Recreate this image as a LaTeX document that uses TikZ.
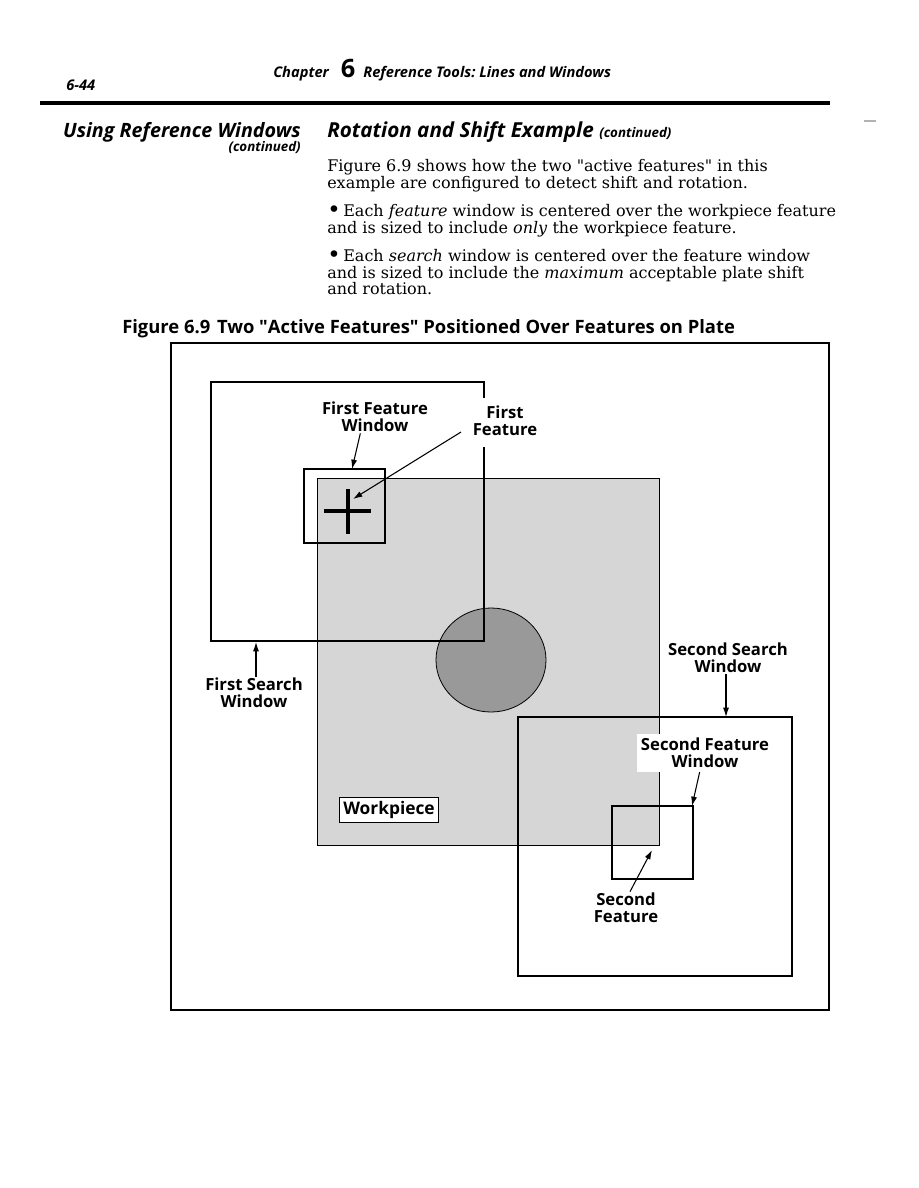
\documentclass[tikz,border=0pt]{standalone}
\usepackage{fontspec}
\setmainfont{DejaVu Serif}
\setsansfont{Open Sans}
\usetikzlibrary{arrows.meta,positioning}

\newcommand{\pxfont}[1]{\fontsize{#1}{#1}\selectfont}
\newcommand{\bodyline}[3]{%
    \node[anchor=base west, inner sep=0pt, font=\pxfont{12}] (#1) at (327,#2) {#3};
}
\newcommand{\bigdot}{{\pxfont{17}\raisebox{-1pt}{\textbullet}}}

\tikzset{
    lbl/.style={font=\pxfont{12.5}\sffamily\bfseries, align=center, inner sep=1pt},
    winline/.style={line width=1.7pt},
    arr/.style={line width=0.8pt, -{Latex[length=7pt,width=4.5pt]}},
}

\begin{document}
\begin{tikzpicture}[x=0.75pt, y=-0.75pt, font=\sffamily]
    \useasboundingbox (0,0) rectangle (918,1188);
    % page head
    \node[anchor=base west, inner sep=0pt, font=\pxfont{11}\sffamily\bfseries\itshape] (pnum) at (66,90) {6-44};
    \node[anchor=base west, inner sep=0pt, font=\pxfont{11}\sffamily\bfseries\itshape] (chap) at (273,78)
        {Chapter\hspace{9pt}{\upshape\pxfont{19}6}\hspace{6pt}Reference Tools:\ Lines and Windows};
    \draw[line width=3pt] (40,103) -- (830,103);
    \draw[gray!60, line width=0.8pt] (864,121) -- (876,121);
    % side and section heads
    \node[anchor=base east, inner sep=0pt, font=\pxfont{14.8}\sffamily\bfseries\itshape] (side) at (301,137) {Using Reference Windows};
    \node[anchor=base east, inner sep=0pt, font=\pxfont{10}\sffamily\bfseries\itshape] (sidec) at (301,151) {(continued)};
    \node[anchor=base west, inner sep=0pt, font=\pxfont{15.5}\sffamily\bfseries\itshape] (sect) at (327,137)
        {Rotation and Shift Example {\pxfont{10}(continued)}};
    % body text
    \bodyline{t1}{171}{Figure 6.9 shows how the two \textquotedbl active features\textquotedbl\ in this}
    \bodyline{t2}{188}{example are configured to detect shift and rotation.}
    \bodyline{t3}{216}{\bigdot\,Each \textit{feature} window is centered over the workpiece feature}
    \bodyline{t4}{233}{and is sized to include \textit{only} the workpiece feature.}
    \bodyline{t5}{261}{\bigdot\,Each \textit{search} window is centered over the feature window}
    \bodyline{t6}{278}{and is sized to include the \textit{maximum} acceptable plate shift}
    \bodyline{t7}{294}{and rotation.}
    \node[anchor=base west, inner sep=0pt, font=\pxfont{13.8}\sffamily\bfseries] (cap) at (122,333)
        {Figure 6.9\hspace{5pt}Two \textquotedbl Active Features\textquotedbl\ Positioned Over Features on Plate};

    % workpiece plate and its round hole
    \draw[line width=0.5pt, fill=black!16] (317,478) rectangle (659,845);
    \draw[line width=0.6pt, fill=black!40] (491,660) ellipse (55 and 52);
    % first feature: cross in its window
    \draw[line width=3.5pt] (348,489) -- (348,534);
    \draw[line width=3.5pt] (324,511) -- (371,511);
    \draw[winline] (304,469) rectangle (385,543);
    % first search window, broken by the label
    \draw[winline] (484,398) -- (484,382) -- (211,382) -- (211,641) -- (484,641) -- (484,447);
    % second search and feature windows
    \draw[winline] (518,717) rectangle (792,976);
    \draw[winline] (612,806) rectangle (693,879);
    % outer frame
    \draw[line width=1.5pt] (171,343) rectangle (829,1010);

    % labels
    \node[lbl] (ffw) at (375,417) {First Feature\\Window};
    \node[lbl] (ff) at (505,421) {First\\Feature};
    \node[lbl] (fsw) at (254,693) {First Search\\Window};
    \node[lbl] (ssw) at (728,658) {Second Search\\Window};
    \node[lbl, fill=white, inner sep=3pt] (sfw) at (705,753) {Second Feature\\Window};
    \node[lbl] (sf) at (626,908) {Second\\Feature};
    \node[draw, line width=0.9pt, fill=white, font=\pxfont{13}\sffamily\bfseries, inner sep=3pt] (wp) at (389,810) {Workpiece};

    % arrow tips
    \coordinate (ffwtip) at (352,469);
    \coordinate (fftip) at (353,499);
    \coordinate (fswtip) at (256,642);
    \coordinate (sswtip) at (726,717);
    \coordinate (sfwtip) at (692,806);
    \coordinate (sftip) at (652,850);

    \draw[arr] ([xshift=-11pt]ffw.south) -- (ffwtip);
    \draw[arr] ([xshift=-33pt,yshift=4pt]ff.south) -- (fftip);
    \draw[arr] ([xshift=1.5pt]fsw.north) -- (fswtip);
    \draw[arr] ([xshift=-1.5pt]ssw.south) -- (sswtip);
    \draw[arr] ([xshift=-4pt]sfw.south) -- (sfwtip);
    \draw[arr] ([xshift=3pt]sf.north) -- (sftip);
\end{tikzpicture}
\end{document}
